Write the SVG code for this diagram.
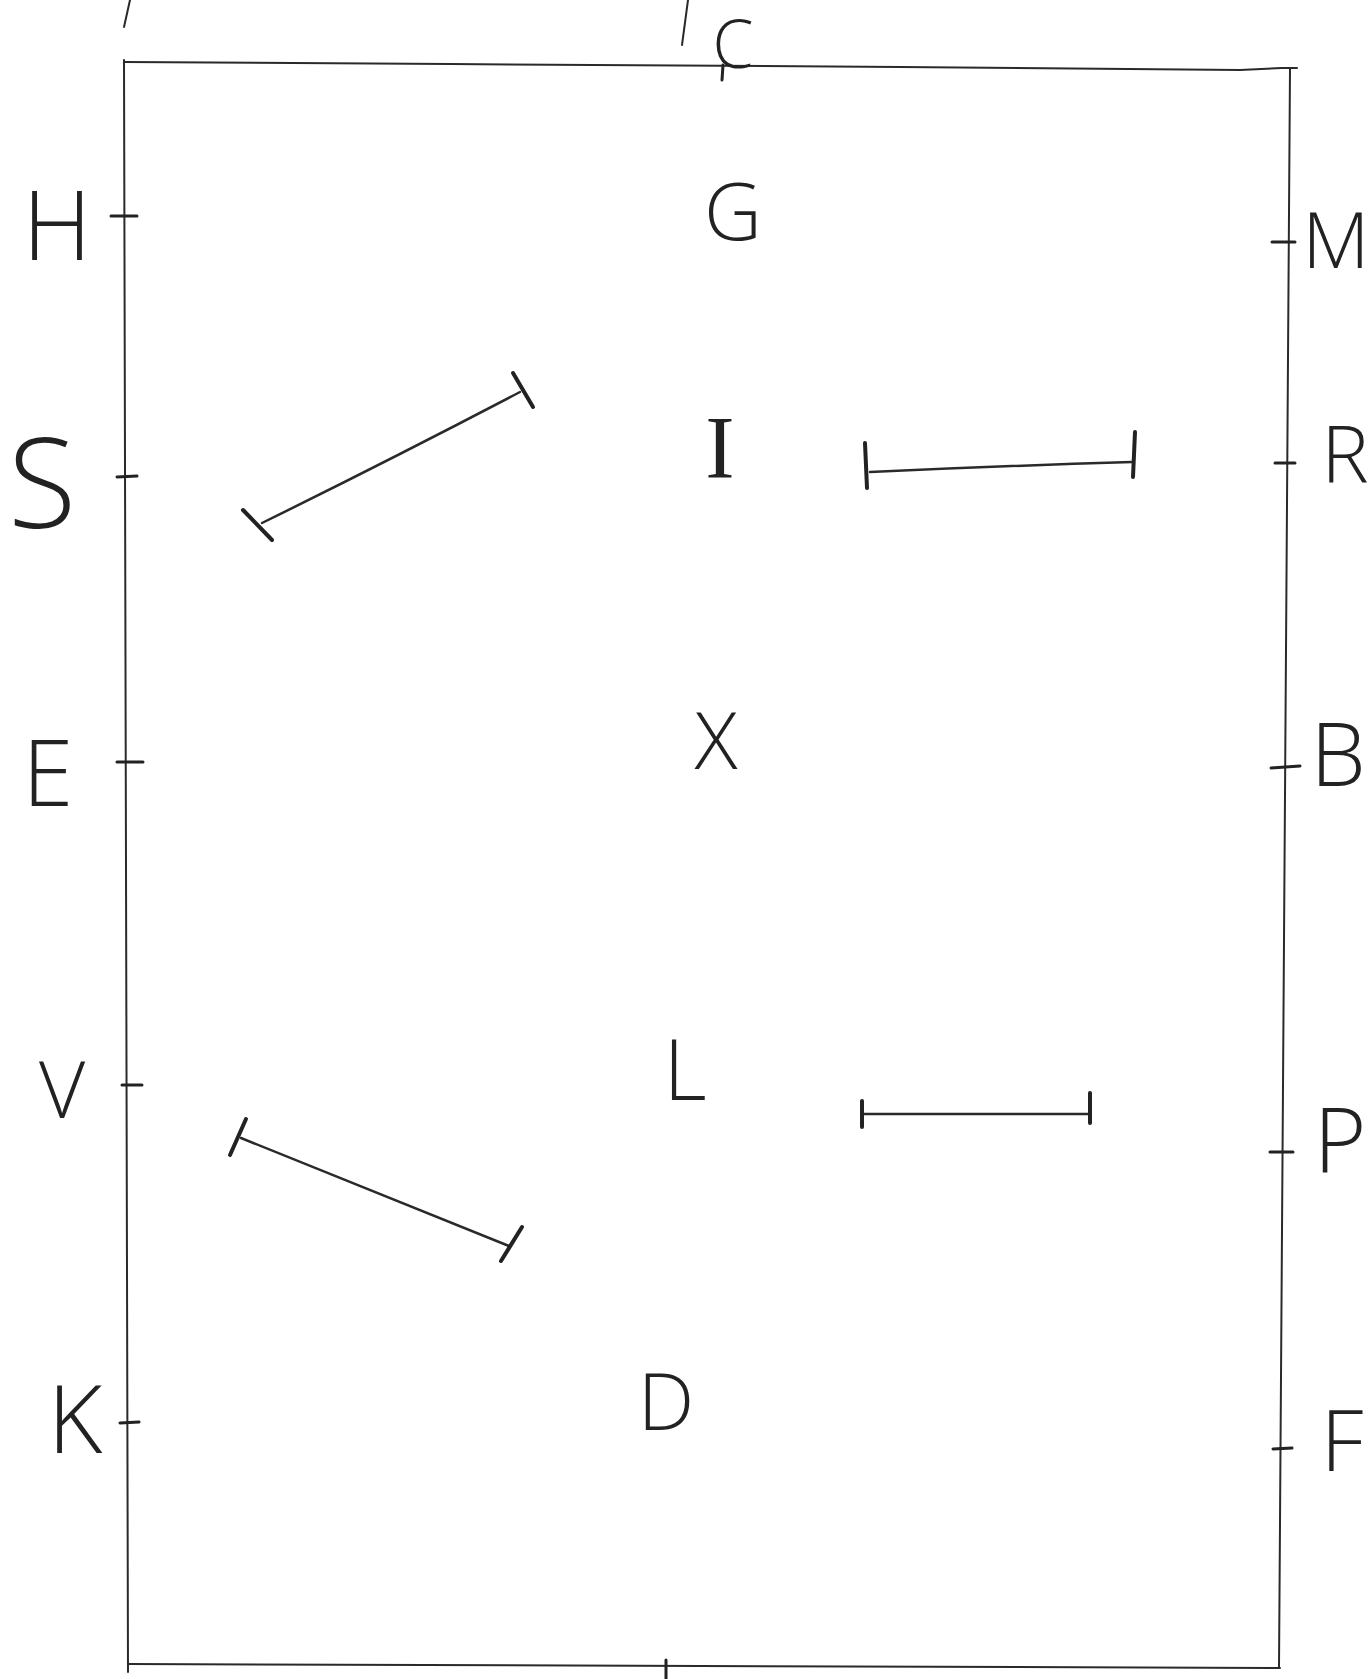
<svg xmlns="http://www.w3.org/2000/svg" width="1369" height="1679" viewBox="0 0 1369 1679">
<style>
.t{font-family:"Open Sans","Liberation Sans",sans-serif;font-weight:300;fill:#222;text-anchor:middle}
.ts{font-family:"Liberation Serif",serif;font-weight:400;fill:#222;text-anchor:middle}
.ln{stroke:#2a2a2a;stroke-width:2.5;fill:none;stroke-linecap:round;stroke-linejoin:round}
.bd{stroke:#2a2a2a;stroke-width:2;fill:none;stroke-linecap:round}
.tk{stroke:#222;stroke-width:3;stroke-linecap:round}
.bar{stroke:#222;stroke-width:4;stroke-linecap:round}
</style>
<rect width="1369" height="1679" fill="#fff"/>
<g id="scraps">
<path class="bd" d="M130 0 L124 27"/>
<path class="bd" d="M688 0 L682 45"/>
</g>
<g id="arena">
<path class="bd" d="M124 62 L450 64 L900 67 L1240 70 L1282 68 L1297 68"/>
<path class="bd" d="M1290 68 L1279 1668"/>
<path class="bd" d="M124 60 L128 1672"/>
<path class="bd" d="M128 1664 L700 1666 L1280 1668"/>
<path class="tk" d="M723 65 L722 80"/>
<path class="tk" d="M666 1660 L666 1679"/>
</g>
<g id="node-C"><text class="t" x="733" y="68" font-size="66">C</text></g>
<g id="node-H"><path class="tk" d="M111 216 L137 216"/><text class="t" x="57" y="260" font-size="96">H</text></g>
<g id="node-S"><path class="tk" d="M117 477 L137 476"/><text class="t" x="42" y="528" font-size="125">S</text></g>
<g id="node-E"><path class="tk" d="M117 762 L143 762"/><text class="t" x="48" y="806" font-size="92">E</text></g>
<g id="node-V"><path class="tk" d="M122 1085 L142 1085"/><text class="t" x="62" y="1118" font-size="80">V</text></g>
<g id="node-K"><path class="tk" d="M120 1423 L139 1422"/><text class="t" x="75" y="1453" font-size="94">K</text></g>
<g id="node-M"><path class="tk" d="M1272 242 L1295 242"/><text class="t" x="1336" y="268" font-size="78">M</text></g>
<g id="node-R"><path class="tk" d="M1275 463 L1295 463"/><text class="t" x="1345" y="483" font-size="80">R</text></g>
<g id="node-B"><path class="tk" d="M1271 768 L1300 766"/><text class="t" x="1338" y="786" font-size="88">B</text></g>
<g id="node-P"><path class="tk" d="M1270 1152 L1293 1152"/><text class="t" x="1340" y="1173" font-size="90">P</text></g>
<g id="node-F"><path class="tk" d="M1273 1449 L1292 1448"/><text class="t" x="1342" y="1471" font-size="85">F</text></g>
<g id="node-G"><text class="t" x="733" y="240" font-size="80">G</text></g>
<g id="node-I"><text class="ts" x="720" y="477" font-size="88">I</text></g>
<g id="node-X"><text class="t" x="716" y="769" font-size="80">X</text></g>
<g id="node-L"><text class="t" x="685" y="1100" font-size="84">L</text></g>
<g id="node-D"><text class="t" x="666" y="1430" font-size="80">D</text></g>
<g id="connectors">
<g id="line-upper-left">
<path class="ln" d="M262 523 Q390 460 520 392"/>
<path class="bar" d="M243 510 L272 540"/>
<path class="bar" d="M513 373 L533 407"/>
</g>
<g id="line-upper-right">
<path class="ln" d="M870 472 Q1000 466 1132 462"/>
<path class="bar" d="M865 443 L867 488"/>
<path class="bar" d="M1135 432 L1133 477"/>
</g>
<g id="line-lower-left">
<path class="ln" d="M241 1138 L509 1246"/>
<path class="bar" d="M230 1155 L246 1119"/>
<path class="bar" d="M501 1261 L522 1227"/>
</g>
<g id="line-lower-right">
<path class="ln" d="M862 1114 L1090 1114"/>
<path class="bar" d="M862 1101 L862 1127"/>
<path class="bar" d="M1090 1093 L1090 1123"/>
</g>
</g>
</svg>
